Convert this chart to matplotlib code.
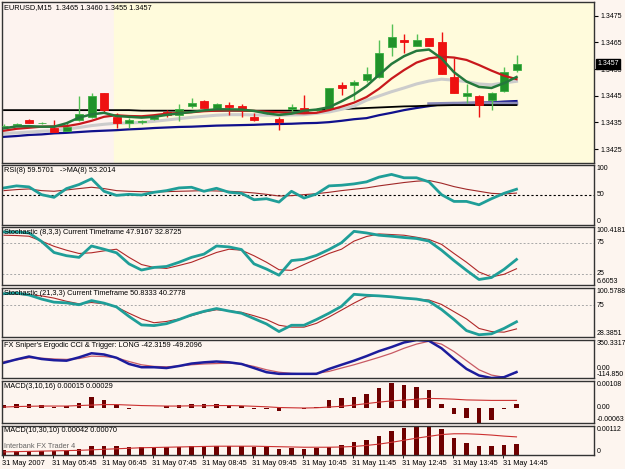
import numpy as np
import matplotlib.pyplot as plt

W, H = 625, 469

# ---- price data, EURUSD M15, 31 May 2007 04:45 .. 15:00 ----
opens = [1.34336, 1.34342, 1.34359, 1.34348, 1.34329, 1.34318, 1.34359, 1.34370, 1.34460, 1.34370,
         1.34348, 1.34351, 1.34364, 1.34389, 1.34378, 1.34411, 1.34430, 1.34404, 1.34415, 1.34411,
         1.34370, 1.34385, 1.34363, 1.34400, 1.34404, 1.34396, 1.34400, 1.34490, 1.34490, 1.34509,
         1.34520, 1.34633, 1.34659, 1.34636, 1.34666, 1.34651, 1.34520, 1.34449, 1.34449, 1.34434,
         1.34468, 1.34546]
highs = [1.34344, 1.34348, 1.34362, 1.34351, 1.34359, 1.34351, 1.34449, 1.34460, 1.34462, 1.34385,
         1.34366, 1.34359, 1.34374, 1.34396, 1.34419, 1.34441, 1.34434, 1.34423, 1.34426, 1.34419,
         1.34385, 1.34392, 1.34370, 1.34419, 1.34453, 1.34404, 1.34479, 1.34501, 1.34509, 1.34558,
         1.34659, 1.34719, 1.34681, 1.34681, 1.34666, 1.34689, 1.34591, 1.34494, 1.34453, 1.34464,
         1.34558, 1.34603]
lows = [1.34329, 1.34340, 1.34348, 1.34344, 1.34314, 1.34316, 1.34355, 1.34366, 1.34389, 1.34329,
        1.34329, 1.34344, 1.34359, 1.34370, 1.34355, 1.34404, 1.34404, 1.34396, 1.34378, 1.34370,
        1.34355, 1.34381, 1.34321, 1.34389, 1.34385, 1.34392, 1.34396, 1.34453, 1.34434, 1.34501,
        1.34516, 1.34599, 1.34610, 1.34636, 1.34636, 1.34531, 1.34460, 1.34423, 1.34370, 1.34396,
        1.34464, 1.34539]
closes = [1.34338, 1.34344, 1.34348, 1.34349, 1.34314, 1.34333, 1.34381, 1.34449, 1.34396, 1.34348,
          1.34359, 1.34355, 1.34372, 1.34378, 1.34400, 1.34423, 1.34404, 1.34419, 1.34408, 1.34400,
          1.34359, 1.34389, 1.34351, 1.34408, 1.34389, 1.34400, 1.34479, 1.34479, 1.34501, 1.34531,
          1.34610, 1.34670, 1.34651, 1.34659, 1.34636, 1.34531, 1.34460, 1.34460, 1.34415, 1.34460,
          1.34539, 1.34570]

ma_green = [1.34328, 1.34335, 1.34336, 1.34334, 1.34334, 1.34347, 1.34368, 1.34380, 1.34386, 1.34374,
            1.34371, 1.34368, 1.34371, 1.34378, 1.34384, 1.34389, 1.34395, 1.34399, 1.34399, 1.34398,
            1.34393, 1.34384, 1.34378, 1.34383, 1.34394, 1.34398, 1.34407, 1.34429, 1.34454, 1.34486,
            1.34528, 1.34569, 1.34598, 1.34618, 1.34623, 1.34590, 1.34538, 1.34503, 1.34483, 1.34479,
            1.34497, 1.34520]
ma_red = [1.34319, 1.34326, 1.34330, 1.34334, 1.34335, 1.34336, 1.34344, 1.34356, 1.34371, 1.34377,
          1.34374, 1.34373, 1.34377, 1.34383, 1.34385, 1.34388, 1.34392, 1.34394, 1.34396, 1.34395,
          1.34393, 1.34390, 1.34388, 1.34385, 1.34384, 1.34386, 1.34396, 1.34409, 1.34424, 1.34445,
          1.34476, 1.34514, 1.34546, 1.34574, 1.34590, 1.34596, 1.34593, 1.34584, 1.34565, 1.34544,
          1.34525, 1.34512]
ma_gray = [1.34309, 1.34311, 1.34314, 1.34317, 1.34319, 1.34325, 1.34331, 1.34338, 1.34343, 1.34347,
           1.34348, 1.34350, 1.34354, 1.34359, 1.34364, 1.34369, 1.34373, 1.34377, 1.34379, 1.34379,
           1.34378, 1.34377, 1.34377, 1.34378, 1.34379, 1.34384, 1.34389, 1.34399, 1.34411, 1.34433,
           1.34449, 1.34465, 1.34479, 1.34494, 1.34505, 1.34512, 1.34508, 1.34503, 1.34494, 1.34491,
           1.34498, 1.34504]
ma_blue = [1.34296, 1.34299, 1.34303, 1.34305, 1.34309, 1.34311, 1.34314, 1.34317, 1.34319, 1.34321,
           1.34324, 1.34326, 1.34329, 1.34331, 1.34333, 1.34334, 1.34336, 1.34338, 1.34339, 1.34340,
           1.34341, 1.34343, 1.34344, 1.34345, 1.34347, 1.34348, 1.34351, 1.34356, 1.34362, 1.34366,
           1.34377, 1.34386, 1.34396, 1.34404, 1.34411, 1.34418, 1.34422, 1.34423, 1.34424, 1.34425,
           1.34428, 1.34430]
ma_black = [1.34396] * 11 + [1.34394] * 14 + [1.34397, 1.34398, 1.34400, 1.34402, 1.34404, 1.34406,
            1.34408, 1.34410, 1.34411, 1.34413, 1.34414] + [1.34415] * 6
ma_slate = [np.nan] * 34 + [1.34419, 1.34420, 1.34421, 1.34421, 1.34421, 1.34421, 1.34421, 1.34421]

rsi = [61.8, 65.2, 63.5, 50.6, 46.1, 60.7, 67.4, 77.0, 56.2, 49.4, 51.1, 50.0, 54.5, 57.3, 61.8,
       62.9, 56.2, 61.2, 54.5, 52.8, 42.1, 43.8, 38.2, 56.2, 44.9, 51.7, 65.2, 66.3, 68.5, 71.9,
       79.8, 84.3, 78.7, 78.7, 71.9, 50.6, 39.3, 39.3, 33.7, 43.8, 52.8, 59.6]
rsi_ma = [57.3, 59.0, 60.1, 57.3, 56.2, 58.4, 60.7, 62.9, 60.7, 57.3, 56.2, 55.6, 55.1, 55.6, 56.2,
          56.7, 57.3, 56.7, 56.2, 55.1, 53.4, 51.1, 48.3, 48.9, 50.6, 52.2, 54.5, 57.3, 59.6, 61.8,
          65.2, 68.0, 70.8, 73.0, 74.2, 69.7, 64.0, 59.6, 56.2, 52.8, 51.7, 53.2]

stoch8_k = [92.4, 92.4, 90.8, 77.1, 59.2, 54.0, 51.3, 69.7, 64.5, 58.7, 40.8, 30.8, 35.0, 36.6,
            43.4, 51.3, 56.6, 69.7, 68.2, 64.0, 40.8, 32.4, 22.4, 46.1, 48.2, 54.5, 64.0, 75.0,
            93.4, 90.8, 87.1, 85.5, 83.4, 81.8, 77.6, 62.9, 46.1, 30.3, 15.5, 18.7, 31.8, 47.9]
stoch8_d = [87.1, 86.6, 85.5, 77.6, 69.2, 62.9, 57.6, 58.7, 61.8, 64.5, 51.3, 39.7, 35.0, 33.4,
            38.2, 43.4, 51.3, 59.2, 64.5, 62.9, 53.9, 43.4, 31.3, 30.3, 39.7, 48.7, 57.6, 64.5,
            77.6, 85.0, 89.2, 88.2, 87.1, 83.9, 80.3, 72.4, 57.6, 43.4, 27.6, 19.7, 23.9, 32.9]

stoch21_k = [92.2, 93.1, 90.3, 84.3, 79.7, 78.7, 75.9, 82.0, 78.3, 72.7, 58.7, 46.2, 45.2, 48.0,
             54.1, 61.0, 66.2, 70.3, 66.6, 63.4, 55.5, 47.6, 36.4, 45.7, 45.7, 54.1, 63.4, 73.6,
             91.3, 89.9, 89.0, 87.6, 85.7, 84.3, 81.0, 69.0, 54.1, 37.8, 31.7, 33.1, 41.0, 50.8]
stoch21_d = [92.2, 91.3, 90.3, 89.0, 85.7, 81.0, 77.3, 79.2, 77.3, 72.7, 63.4, 55.0, 49.4, 51.3,
             55.0, 59.7, 65.2, 68.5, 67.1, 64.8, 59.7, 54.1, 45.7, 42.9, 42.9, 48.5, 57.8, 68.0,
             78.3, 87.6, 89.0, 87.6, 85.7, 84.3, 82.9, 76.4, 65.7, 55.0, 41.0, 36.4, 35.5, 40.3]

cci = [72, 113, 148, 118, 103, 97, 138, 188, 173, 133, 57, 17, 17, 7, 32, 62, 77, 87, 77, 57,
       7, -44, -64, -64, -64, -64, -4, 47, 97, 153, 214, 264, 320, 350, 340, 249, 118, -4, -84,
       -115, -105, -42]
cci_trig = [87, 108, 133, 128, 118, 113, 123, 153, 148, 133, 87, 47, 27, 22, 32, 47, 57, 62, 67,
            57, 27, -14, -44, -59, -64, -59, -34, 7, 47, 92, 138, 188, 249, 300, 335, 300, 209,
            97, -14, -79, -105, -49]

macd1 = [0.00010, 0.00015, 0.00015, 0.00010, 0.00004, 0.00007, 0.00018, 0.00044, 0.00030, 0.00010,
         -0.00004, -0.00001, -0.00003, 0.00008, 0.00010, 0.00015, 0.00015, 0.00015, 0.00010, 0.00007,
         -0.00005, -0.00005, -0.00015, -0.00003, -0.00007, 0.00001, 0.00030, 0.00040, 0.00044, 0.00055,
         0.00078, 0.00099, 0.00093, 0.00084, 0.00070, 0.00015, -0.00027, -0.00044, -0.00062, -0.00049,
         -0.00006, 0.00015]
macd1_sig = [0.00002, 0.00004, 0.00005, 0.00006, 0.00006, 0.00006, 0.00008, 0.00010, 0.00012, 0.00012,
             0.00010, 0.00008, 0.00007, 0.00006, 0.00006, 0.00007, 0.00007, 0.00008, 0.00008, 0.00007,
             0.00005, 0.00003, 0.00000, -0.00001, -0.00002, -0.00001, 0.00002, 0.00005, 0.00010, 0.00016,
             0.00022, 0.00027, 0.00030, 0.00034, 0.00037, 0.00036, 0.00034, 0.00031, 0.00030, 0.00029,
             0.00029, 0.00029]

macd2 = [0.00018, 0.00017, 0.00017, 0.00016, 0.00016, 0.00017, 0.00022, 0.00035, 0.00035, 0.00035,
         0.00032, 0.00032, 0.00032, 0.00032, 0.00032, 0.00035, 0.00036, 0.00036, 0.00035, 0.00034,
         0.00032, 0.00029, 0.00025, 0.00028, 0.00025, 0.00028, 0.00032, 0.00039, 0.00049, 0.00057,
         0.00074, 0.00092, 0.00105, 0.00110, 0.00112, 0.00102, 0.00067, 0.00046, 0.00036, 0.00036,
         0.00039, 0.00042]
macd2_sig = [0.00012, 0.00013, 0.00014, 0.00015, 0.00016, 0.00017, 0.00018, 0.00020, 0.00022, 0.00024,
             0.00026, 0.00028, 0.00029, 0.00030, 0.00031, 0.00032, 0.00033, 0.00034, 0.00034, 0.00034,
             0.00034, 0.00033, 0.00032, 0.00031, 0.00030, 0.00030, 0.00030, 0.00031, 0.00033, 0.00037,
             0.00042, 0.00049, 0.00057, 0.00065, 0.00072, 0.00079, 0.00082, 0.00082, 0.00080, 0.00077,
             0.00073, 0.00070]

date_labels = ['31 May 2007', '31 May 05:45', '31 May 06:45', '31 May 07:45', '31 May 08:45',
               '31 May 09:45', '31 May 10:45', '31 May 11:45', '31 May 12:45', '31 May 13:45',
               '31 May 14:45']
label_bars = [0, 4, 8, 12, 16, 20, 24, 28, 32, 36, 40]
price_ticks = [1.3425, 1.3435, 1.3445, 1.3455, 1.3465, 1.3475]

x = np.arange(len(closes))
o, h, l, c = map(np.array, (opens, highs, lows, closes))

BG = '#fdf5ef'
FS = 5.3
plt.rcParams['font.family'] = ['Liberation Sans', 'DejaVu Sans']

fig = plt.figure(figsize=(W / 100, H / 100), dpi=100)
fig.patch.set_facecolor(BG)

XL = (-0.16, 47.2)


def panel(y0, y1, lo, hi):
    ax = fig.add_axes([2 / W, 1 - y1 / H, 592 / W, (y1 - y0) / H])
    ax.set_xlim(*XL)
    ax.set_ylim(lo, hi)
    ax.set_facecolor(BG)
    ax.set_xticks([])
    ax.set_yticks([])
    for s in ax.spines.values():
        s.set_color('#333333')
        s.set_linewidth(1)
    return ax


def rlabel(ax, val, txt, va='center'):
    ax.text(1.005, val, txt, transform=ax.get_yaxis_transform(), fontsize=5,
            va=va, ha='left', clip_on=False)


def title(ax, txt):
    ax.text(0.004, 0.96, txt, transform=ax.transAxes, fontsize=FS, va='top', ha='left', zorder=10)


# ---------------- main chart ----------------
ax = panel(2, 163, 1.34198, 1.34801)
ax.set_facecolor('#fdf3ef')
ax.axvspan(8.8, XL[1], color='#fffbdc', zorder=0)

ax.plot(x, ma_blue, color='#10108c', lw=1.6, zorder=2)
ax.plot(x, ma_slate, color='#8a8ab8', lw=2.5, zorder=2)
ax.plot(x, ma_black, color='black', lw=1.3, zorder=2)
ax.plot(x, ma_gray, color='#cccccc', lw=2.2, zorder=2)

up = c >= o
wick_col = np.where(up, '#55c055', '#ee1111')
ax.vlines(x, l, h, colors=wick_col, lw=1, zorder=3)
body_lo = np.minimum(o, c)
body_h = np.maximum(np.abs(c - o), 0.000012)
ax.bar(x, body_h, bottom=body_lo, width=0.64,
       color=np.where(up, '#21922a', '#ee1111'), edgecolor=np.where(up, '#3cb043', '#ee1111'),
       linewidth=0.6, zorder=4)

ax.plot(x, ma_red, color='#c8181c', lw=1.6, zorder=5)
ax.plot(x, ma_green, color='#24783c', lw=1.8, zorder=5)

ax.yaxis.tick_right()
ax.set_yticks(price_ticks)
ax.set_yticklabels([f'{p:.4f}' for p in price_ticks], fontsize=5)
ax.tick_params(axis='y', length=3, width=0.8, pad=1.5, colors='black')
ax.text(0.004, 0.985, 'EURUSD,M15  1.3465 1.3460 1.3455 1.3457', transform=ax.transAxes,
        fontsize=FS, va='top', ha='left', zorder=10)
ax.text(1.006, closes[-1], f'{closes[-1]:.4f}', transform=ax.get_yaxis_transform(), fontsize=5,
        color='white', va='center', ha='left', clip_on=False, zorder=20,
        bbox=dict(boxstyle='square,pad=0.2', fc='black', ec='black'))

# ---------------- RSI ----------------
ax = panel(165, 225, 0, 100)
ax.axhline(50, color='black', lw=0.8, ls=(0, (2, 2)))
ax.plot(x, rsi_ma, color='#a02828', lw=0.8)
ax.plot(x, rsi, color='#1f9e98', lw=2)
title(ax, 'RSI(8) 59.5701   ->MA(8) 53.2014')
rlabel(ax, 100, '100', 'top')
rlabel(ax, 50, '50')
rlabel(ax, 0, '0', 'bottom')

# ---------------- Stochastic 8 ----------------
ax = panel(227, 285, 6.6053, 100.4181)
for lv in (75, 25):
    ax.axhline(lv, color='#a8a8a8', lw=0.7, ls=(0, (2, 2)))
ax.plot(x, stoch8_d, color='#b02828', lw=0.8)
ax.plot(x, stoch8_k, color='#1f9e98', lw=2)
title(ax, 'Stochastic (8,3,3) Current Timeframe 47.9167 32.8725')
rlabel(ax, 100.4181, '100.4181', 'top')
rlabel(ax, 75, '75')
rlabel(ax, 25, '25')
rlabel(ax, 6.6053, '6.6053', 'bottom')

# ---------------- Stochastic 21 ----------------
ax = panel(288, 337, 28.3851, 100.5788)
ax.axhline(75, color='#a8a8a8', lw=0.7, ls=(0, (2, 2)))
ax.plot(x, stoch21_d, color='#b02828', lw=0.8)
ax.plot(x, stoch21_k, color='#1f9e98', lw=2)
title(ax, 'Stochastic (21,3,3) Current Timeframe 50.8333 40.2778')
rlabel(ax, 100.5788, '100.5788', 'top')
rlabel(ax, 75, '75')
rlabel(ax, 28.3851, '28.3851', 'bottom')

# ---------------- Ergodic CCI ----------------
ax = panel(340, 378, -114.85, 350.3317)
ax.plot(x, cci_trig, color='#c85a64', lw=0.9)
ax.plot(x, cci, color='#1c1c9c', lw=1.8)
title(ax, "FX Sniper's Ergodic CCI & Trigger: LONG -42.3159 -49.2096")
rlabel(ax, 350.3317, '350.3317', 'top')
rlabel(ax, 0, '0.00')
rlabel(ax, -114.85, '-114.850', 'bottom')

# ---------------- MACD 3,10,16 ----------------
ax = panel(381, 423, -0.00063, 0.00108)
ax.bar(x, macd1, width=0.34, color='#6e0000')
ax.plot(x, macd1_sig, color='#cc3030', lw=0.8)
title(ax, 'MACD(3,10,16) 0.00015 0.00029')
rlabel(ax, 0.00108, '0.00108', 'top')
rlabel(ax, 0, '0.00')
rlabel(ax, -0.00063, '-0.00063', 'bottom')

# ---------------- MACD 10,30,10 ----------------
ax = panel(426, 455, 0, 0.00112)
ax.bar(x, macd2, width=0.34, color='#6e0000')
ax.plot(x, macd2_sig, color='#cc3030', lw=0.8)
title(ax, 'MACD(10,30,10) 0.00042 0.00070')
ax.text(0.004, 0.3, 'Interbank FX Trader 4', transform=ax.transAxes, fontsize=FS,
        color='#404040', alpha=0.8, va='center', ha='left', zorder=10)
rlabel(ax, 0.00112, '0.00112', 'top')
rlabel(ax, 0, '0', 'bottom')
ax.set_xticks([b - 0.12 for b in label_bars])
ax.set_xticklabels(date_labels, fontsize=FS, ha='left')
ax.tick_params(axis='x', length=2, width=0.6, pad=1.5)

fig.savefig('out.png', dpi=100, facecolor=BG)
